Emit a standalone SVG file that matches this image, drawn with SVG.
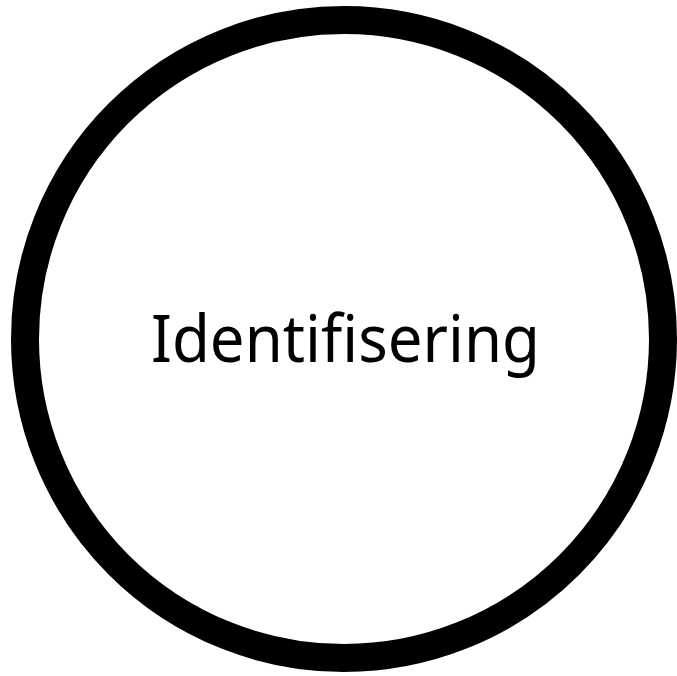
<svg xmlns="http://www.w3.org/2000/svg" width="677" height="676" viewBox="0 0 677 676">
<style>
.ring{fill:#fff;stroke:#000;stroke-width:28}
.lbl{font-family:"Noto Sans","Open Sans",sans-serif;font-size:66px;fill:#000}
</style>
<rect width="677" height="676" fill="#fff"/>
<g id="node-identifisering">
<circle class="ring" cx="344" cy="339" r="319"/>
<text class="lbl" x="151" y="362" textLength="389" lengthAdjust="spacingAndGlyphs">Identifisering</text>
</g>
</svg>
